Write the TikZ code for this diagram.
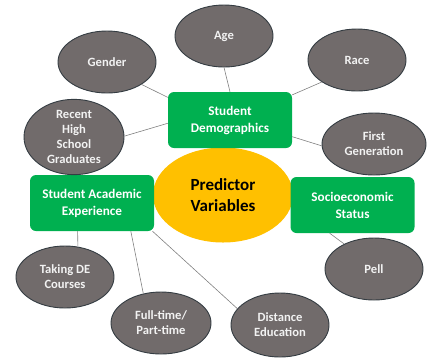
\documentclass[tikz,border=0pt]{standalone}
\usepackage{fontspec}
\setmainfont{Carlito}
\usetikzlibrary{shapes.geometric}
\definecolor{bubble}{RGB}{113,107,107}
\definecolor{bubbleline}{RGB}{52,60,66}
\definecolor{groupgreen}{RGB}{0,176,80}
\definecolor{hubyellow}{RGB}{255,192,0}
\definecolor{linkgray}{RGB}{128,128,128}
\begin{document}
\begin{tikzpicture}[x=1pt,y=-1pt,
  factor/.style={ellipse, draw=bubbleline, line width=0.9pt, fill=bubble,
    text=white!95!black, font=\bfseries\fontsize{12.6}{15}\selectfont,
    align=center, inner sep=0pt, minimum width=98pt, minimum height=62pt},
  group/.style={rectangle, rounded corners=6pt, fill=groupgreen, text=white,
    font=\bfseries\fontsize{13.2}{17}\selectfont, align=center, inner sep=0pt,
    minimum width=124pt, minimum height=56pt},
  hub/.style={ellipse, fill=hubyellow, text=black,
    font=\bfseries\fontsize{17}{20.5}\selectfont, align=center, inner sep=0pt,
    minimum width=140pt, minimum height=95pt},
  link/.style={draw=linkgray, line width=0.6pt}]
\useasboundingbox (0,0) rectangle (427,360);

% central hub and the three groups
\node[hub] (pv) at (223,195) {Predictor\\Variables};
\node[group] (sd) at (230,120) {Student\\Demographics};
\node[group] (sae) at (92,203) {Student Academic\\Experience};
\node[group] (ses) at (352.5,205) {Socioeconomic\\Status};

% demographic factors
\node[factor] (gender) at (107,62) {Gender};
\node[factor] (age) at (224,36) {Age};
\node[factor] (race) at (357,60) {Race};
\node[factor, minimum width=104pt] (fg) at (374,144) {First\\Generation};
\node[factor, minimum width=100pt] (rhs) at (74,137) {Recent\\High\\School\\Graduates};

% academic experience factors
\node[factor] (tde) at (65,277) {Taking DE\\Courses};
\node[factor, minimum width=100pt] (ft) at (161,323) {Full-time/\\Part-time};
\node[factor, minimum height=64pt] (de) at (280,325) {Distance\\Education};

% socioeconomic factor
\node[factor] (pell) at (374,269) {Pell};

% connectors
\draw[link] (gender.-33) -- (sd.160);
\draw[link] (rhs.1) -- (sd.183);
\draw[link] (age.south) -- (sd.north);
\draw[link] (race.212) -- (sd.22);
\draw[link] (sd.-15) -- (fg.182);
\draw[link] (sae.-117) -- (tde.67);
\draw[link] (sae.-36) -- (ft.121);
\draw[link] (sae.-25) -- (de.159);
\draw[link] (ses.-129) -- (pell.140);
\end{tikzpicture}
\end{document}
